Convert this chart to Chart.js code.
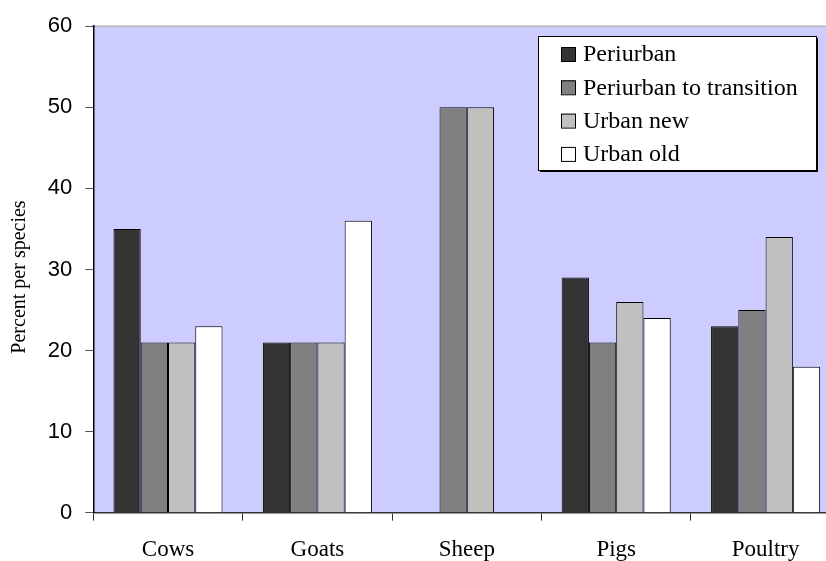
<!DOCTYPE html>
<html>
<head>
<meta charset="utf-8">
<script src="https://cdn.jsdelivr.net/npm/chart.js@4/dist/chart.umd.min.js"></script>
<style>
  html, body { margin: 0; padding: 0; background: #fff; overflow: hidden; }
  #wrap { position: relative; width: 841px; height: 561px; }
</style>
</head>
<body>
<div id="wrap"><canvas id="c"></canvas></div>
<script>
// Livestock species and the share of keepers in each zone
const species = ['Cows', 'Goats', 'Sheep', 'Pigs', 'Poultry'];
const periurban = [35, 21, 0, 29, 23];
const periurbanToTransition = [21, 21, 50, 21, 25];
const urbanNew = [21, 21, 50, 26, 34];
const urbanOld = [23, 36, 0, 24, 18];
const yTicks = [0, 10, 20, 30, 40, 50, 60];
const yTitle = 'Percent per species';

const serif = '"Liberation Serif", "Times New Roman", serif';
const sans = '"Liberation Sans", Arial, sans-serif';

// Plot background and the thin grey frame line along the top
const plotBackground = {
  id: 'plotBackground',
  beforeDraw(chart) {
    const { ctx, chartArea: a } = chart;
    ctx.save();
    ctx.fillStyle = '#ccccff';
    ctx.fillRect(a.left, a.top, a.right - a.left, a.bottom - a.top);
    ctx.strokeStyle = '#b4b4b4';
    ctx.lineWidth = 1.5;
    ctx.beginPath();
    ctx.moveTo(a.left, a.top);
    ctx.lineTo(a.right, a.top);
    ctx.stroke();
    ctx.restore();
  }
};

// Vertical axis title, set a little below the middle of the plot
const axisTitle = {
  id: 'axisTitle',
  afterDraw(chart, args, opts) {
    const { ctx } = chart;
    ctx.save();
    ctx.translate(opts.x, opts.y);
    ctx.rotate(-Math.PI / 2);
    ctx.font = opts.size + 'px ' + serif;
    ctx.fillStyle = '#000';
    ctx.textAlign = 'center';
    ctx.textBaseline = 'alphabetic';
    ctx.fillText(opts.text, 0, 0);
    ctx.restore();
  }
};

// Boxed legend sitting inside the plot, top right
const boxLegend = {
  id: 'boxLegend',
  afterDatasetsDraw(chart, args, opts) {
    const { ctx } = chart;
    const x = opts.x, y = opts.y, w = opts.width, h = opts.height;
    ctx.save();
    ctx.fillStyle = '#000';
    ctx.fillRect(x + 2, y + 2, w, h);
    ctx.fillStyle = '#fff';
    ctx.fillRect(x, y, w, h);
    ctx.strokeStyle = '#000';
    ctx.lineWidth = 1;
    ctx.strokeRect(x + 0.5, y + 0.5, w, h);
    ctx.font = opts.size + 'px ' + serif;
    ctx.textBaseline = 'middle';
    chart.data.datasets.forEach((ds, i) => {
      const cy = y + opts.firstRow + i * opts.rowGap;
      ctx.fillStyle = ds.backgroundColor;
      ctx.fillRect(x + opts.boxOffset, cy - 7, 14, 14);
      ctx.strokeStyle = '#000';
      ctx.strokeRect(x + opts.boxOffset + 0.5, cy - 7 + 0.5, 14, 14);
      ctx.fillStyle = '#000';
      ctx.fillText(ds.label, x + opts.textOffset, cy + 1);
    });
    ctx.restore();
  }
};

const mk = (label, data, color) => ({
  label, data,
  backgroundColor: color,
  borderColor: '#000',
  borderWidth: 1,
  categoryPercentage: 0.73,
  barPercentage: 1.0
});

new Chart(document.getElementById('c'), {
  type: 'bar',
  data: {
    labels: species,
    datasets: [
      mk('Periurban', periurban, '#333333'),
      mk('Periurban to transition', periurbanToTransition, '#808080'),
      mk('Urban new', urbanNew, '#c0c0c0'),
      mk('Urban old', urbanOld, '#ffffff')
    ]
  },
  options: {
    responsive: true,
    maintainAspectRatio: false,
    animation: false,
    layout: { padding: { top: 24, left: 0, right: 0.7, bottom: 0 } },
    plugins: {
      legend: { display: false },
      tooltip: { enabled: false },
      axisTitle: { text: yTitle, x: 25, y: 277, size: 20 },
      boxLegend: { x: 538, y: 36, width: 278, height: 134, firstRow: 18, rowGap: 33.3, boxOffset: 23, textOffset: 45, size: 24 }
    },
    scales: {
      x: {
        ticks: { color: '#000', font: { family: serif, size: 23 }, padding: 15 },
        grid: { drawOnChartArea: false, drawTicks: true, tickLength: 8, color: '#333', offset: true },
        border: { display: true, color: '#333', width: 1.5 },
        afterFit(s) { s.height = 48.3; }
      },
      y: {
        min: yTicks[0],
        max: yTicks[yTicks.length - 1],
        afterBuildTicks(s) { s.ticks = yTicks.map(v => ({ value: v })); },
        ticks: { color: '#000', font: { family: sans, size: 22 }, padding: 13 },
        grid: { drawOnChartArea: false, drawTicks: true, tickLength: 8, color: '#555' },
        border: { display: true, color: '#000', width: 1.5 },
        afterFit(s) { s.width = 93.3; }
      }
    }
  },
  plugins: [plotBackground, axisTitle, boxLegend]
});
</script>
</body>
</html>
